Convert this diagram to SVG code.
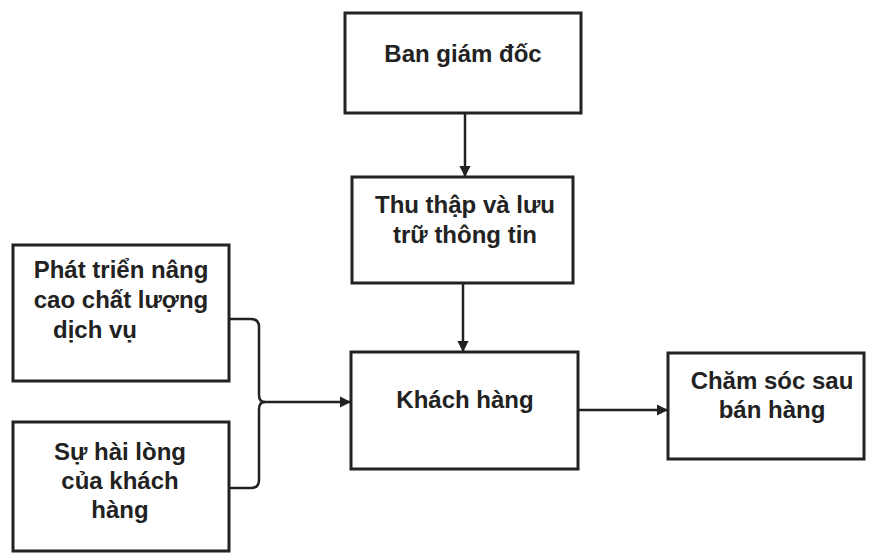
<svg xmlns="http://www.w3.org/2000/svg" width="880" height="556" viewBox="0 0 880 556">
<defs>
<style>
.box{fill:#fff;stroke:#222;stroke-width:3}
.t{font-family:"Liberation Sans",Arial,sans-serif;font-weight:bold;font-size:24px;fill:#222;text-anchor:middle}
.s{text-anchor:start}
.c{fill:none;stroke:#222;stroke-width:2.5}
</style>
<marker id="ah" viewBox="0 0 10 10" refX="9" refY="5" markerWidth="4.5" markerHeight="4.5" orient="auto" markerUnits="strokeWidth">
<path d="M0,0 L10,5 L0,10 Z" fill="#222"/>
</marker>
</defs>
<rect width="880" height="556" fill="#fff"/>
<g id="connectors">
<line class="c" x1="465" y1="113" x2="465" y2="176" marker-end="url(#ah)"/>
<line class="c" x1="463" y1="283" x2="463" y2="351" marker-end="url(#ah)"/>
<line class="c" x1="578" y1="410" x2="667" y2="410" marker-end="url(#ah)"/>
<path class="c" d="M229,319 L251,319 Q259,319 259,327 L259,395 Q259,402 265,402 Q259,402 259,409 L259,480 Q259,488 251,488 L229,488"/>
<line class="c" x1="263" y1="402" x2="350" y2="402" stroke-width="3" marker-end="url(#ah)"/>
</g>
<g id="ban-giam-doc">
<rect class="box" x="345" y="13" width="236" height="100"/>
<text class="t" x="463" y="62">Ban giám đốc</text>
</g>
<g id="thu-thap">
<rect class="box" x="352" y="177" width="221" height="106"/>
<text class="t" x="465" y="213">Thu thập và lưu</text>
<text class="t" x="465" y="243">trữ thông tin</text>
</g>
<g id="khach-hang">
<rect class="box" x="351" y="352" width="227" height="117"/>
<text class="t" x="465" y="408">Khách hàng</text>
</g>
<g id="cham-soc">
<rect class="box" x="668" y="353" width="196" height="106"/>
<text class="t" x="772" y="389">Chăm sóc sau</text>
<text class="t" x="772" y="418">bán hàng</text>
</g>
<g id="phat-trien">
<rect class="box" x="13" y="245" width="216" height="136"/>
<text class="t" x="121" y="278">Phát triển nâng</text>
<text class="t" x="121" y="308">cao chất lượng</text>
<text class="t s" x="53" y="338">dịch vụ</text>
</g>
<g id="su-hai-long">
<rect class="box" x="13" y="422" width="216" height="129"/>
<text class="t" x="120" y="460">Sự hài lòng</text>
<text class="t" x="120" y="489">của khách</text>
<text class="t" x="120" y="518">hàng</text>
</g>
</svg>
